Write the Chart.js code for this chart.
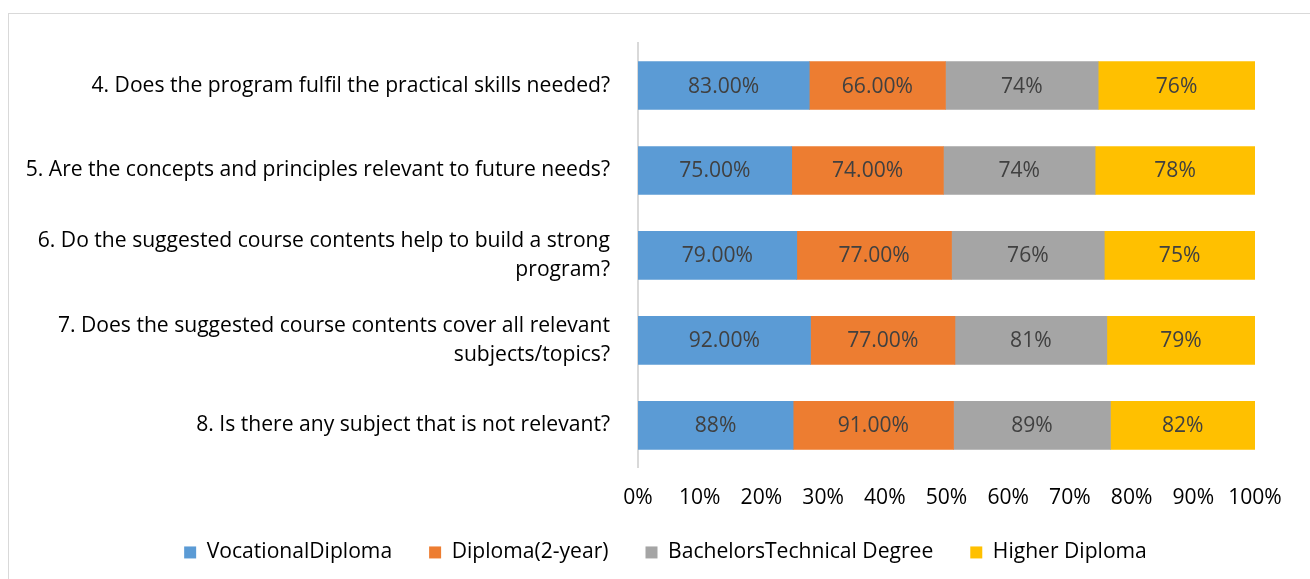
<!DOCTYPE html>
<html>
<head>
<meta charset="utf-8">
<script src="https://cdn.jsdelivr.net/npm/chart.js@4"></script>
<style>
  html, body { margin:0; padding:0; background:#ffffff; overflow:hidden; width:1310px; height:579px; }
  #frame { position:absolute; left:8px; top:13px; width:1400px; height:700px; border:1px solid #d9d9d9; box-sizing:border-box; }
  #c { position:absolute; left:0; top:0; }
</style>
</head>
<body>
<div id="frame"></div>
<canvas id="c" width="1310" height="579"></canvas>
<script>
// ---- data ----
const categories = [
  '4. Does the program fulfil the practical skills needed?',
  '5. Are the concepts and principles relevant to future needs?',
  ['6. Do the suggested course contents help to build a strong', 'program?'],
  ['7. Does the suggested course contents cover all relevant', 'subjects/topics?'],
  '8. Is there any subject that is not relevant?'
];
const seriesNames = ['VocationalDiploma', 'Diploma(2-year)', 'BachelorsTechnical Degree', 'Higher Diploma'];
const vocational = [83, 75, 79, 92, 88];
const diploma2yr = [66, 74, 77, 77, 91];
const bachelors  = [74, 74, 76, 81, 89];
const higher     = [76, 78, 75, 79, 82];
const vocationalLabels = ['83.00%', '75.00%', '79.00%', '92.00%', '88%'];
const diploma2yrLabels = ['66.00%', '74.00%', '77.00%', '77.00%', '91.00%'];
const bachelorsLabels  = ['74%', '74%', '76%', '81%', '89%'];
const higherLabels     = ['76%', '78%', '75%', '79%', '82%'];
const xTickValues = [0, 10, 20, 30, 40, 50, 60, 70, 80, 90, 100];

// ---- build ----
const raw = [vocational, diploma2yr, bachelors, higher];
const labelSets = [vocationalLabels, diploma2yrLabels, bachelorsLabels, higherLabels];
const colors = ['#5B9BD5', '#ED7D31', '#A5A5A5', '#FFC000'];
const totals = categories.map((_, i) => raw.reduce((s, arr) => s + arr[i], 0));
const FONT = 'Open Sans';

// fit font size so the longest category label matches the reference width (~585px)
const mctx = document.createElement('canvas').getContext('2d');
mctx.font = '20px "' + FONT + '"';
const w20 = mctx.measureText(categories[1]).width;
const FS = Math.round(20 * 585 / w20 * 10) / 10;

const LEGEND_PAD = 37;
const LEGEND_SHIFT_X = 28;
const LEGEND_SHIFT_Y = -13;

const datasets = raw.map((arr, k) => ({
  label: seriesNames[k],
  data: arr.map((v, i) => v / totals[i] * 100),
  backgroundColor: colors[k],
  borderWidth: 0,
  barThickness: 48,
  valueLabels: labelSets[k]
}));

const valueLabelPlugin = {
  id: 'valueLabels',
  afterLayout(chart) {
    const lg = chart.legend;
    if (lg) {
      lg.left += LEGEND_SHIFT_X;
      lg.right += LEGEND_SHIFT_X;
      lg.top += LEGEND_SHIFT_Y;
      lg.bottom = chart.height;
    }
  },
  afterDatasetsDraw(chart) {
    const ctx = chart.ctx;
    ctx.save();
    ctx.font = FS + 'px "' + FONT + '"';
    ctx.fillStyle = '#404040';
    ctx.textAlign = 'center';
    ctx.textBaseline = 'middle';
    chart.data.datasets.forEach((ds, k) => {
      const meta = chart.getDatasetMeta(k);
      meta.data.forEach((el, i) => {
        ctx.fillText(ds.valueLabels[i], (el.x + el.base) / 2, el.y + 1);
      });
    });
    ctx.restore();
  }
};

new Chart(document.getElementById('c'), {
  type: 'bar',
  data: { labels: categories, datasets },
  plugins: [valueLabelPlugin],
  options: {
    indexAxis: 'y',
    responsive: false,
    animation: false,
    devicePixelRatio: 1,
    layout: { padding: { top: 43, right: 55, left: 20, bottom: 8 } },
    scales: {
      x: {
        stacked: true,
        min: 0, max: 100,
        afterBuildTicks(scale) { scale.ticks = xTickValues.map(v => ({ value: v })); },
        afterFit(scale) { scale.height = 50; },
        grid: { display: false, drawTicks: false },
        border: { display: false },
        ticks: {
          padding: 17,
          color: '#000000',
          font: { family: FONT, size: FS },
          callback: v => v + '%'
        }
      },
      y: {
        stacked: true,
        afterFit(scale) { scale.width = 638 - 20; },
        grid: { display: false, drawTicks: false },
        border: { display: true, color: '#d9d9d9', width: 2 },
        ticks: {
          padding: 28,
          color: '#000000',
          font: { family: FONT, size: FS, lineHeight: 1.4 }
        }
      }
    },
    plugins: {
      tooltip: { enabled: false },
      legend: {
        position: 'bottom',
        maxHeight: FS + 32,
        labels: {
          boxWidth: 12,
          boxHeight: 12,
          padding: LEGEND_PAD,
          color: '#000000',
          font: { family: FONT, size: FS }
        }
      }
    }
  }
});
</script>
</body>
</html>
